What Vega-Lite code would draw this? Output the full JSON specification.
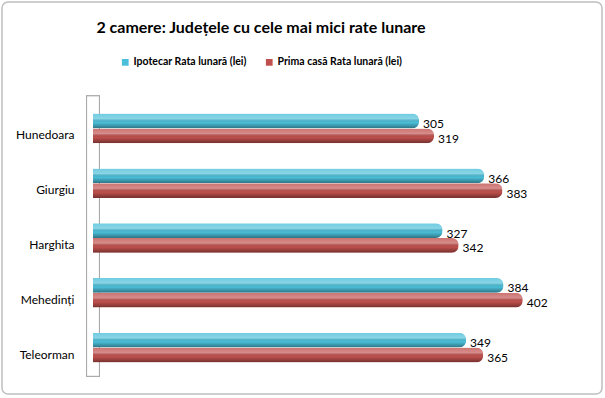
{
  "$schema": "https://vega.github.io/schema/vega-lite/v6.json",
  "autosize": "none",
  "width": 600,
  "height": 392,
  "padding": {"left": 2, "top": 2, "right": 3, "bottom": 4},
  "background": "white",
  "title": {
    "text": "2 camere: Județele cu cele mai mici rate lunare",
    "font": "Lato",
    "fontSize": 16,
    "fontWeight": "bold",
    "color": "#000000",
    "anchor": "middle",
    "dx": -41,
    "offset": -34
  },
  "data": {
    "values": [
      {"judet": "Hunedoara", "serie": "Ipotecar Rata lunară (lei)", "valoare": 305},
      {"judet": "Hunedoara", "serie": "Prima casă Rata lunară (lei)", "valoare": 319},
      {"judet": "Giurgiu", "serie": "Ipotecar Rata lunară (lei)", "valoare": 366},
      {"judet": "Giurgiu", "serie": "Prima casă Rata lunară (lei)", "valoare": 383},
      {"judet": "Harghita", "serie": "Ipotecar Rata lunară (lei)", "valoare": 327},
      {"judet": "Harghita", "serie": "Prima casă Rata lunară (lei)", "valoare": 342},
      {"judet": "Mehedinți", "serie": "Ipotecar Rata lunară (lei)", "valoare": 384},
      {"judet": "Mehedinți", "serie": "Prima casă Rata lunară (lei)", "valoare": 402},
      {"judet": "Teleorman", "serie": "Ipotecar Rata lunară (lei)", "valoare": 349},
      {"judet": "Teleorman", "serie": "Prima casă Rata lunară (lei)", "valoare": 365}
    ]
  },
  "layer": [
    {
      "mark": {"type": "rect", "fill": "#ffffff", "stroke": "#a6a6a6", "strokeWidth": 1},
      "encoding": {
        "x": {"datum": -6, "type": "quantitative", "scale": {"domain": [0, 400], "range": [91, 518.6]}, "axis": null},
        "x2": {"datum": 6},
        "y": {"datum": "Hunedoara", "type": "nominal", "bandPosition": -0.6},
        "y2": {"datum": "Teleorman", "bandPosition": 1.47}
      }
    },
    {
      "encoding": {
        "y": {
          "field": "judet",
          "type": "nominal",
          "sort": ["Hunedoara", "Giurgiu", "Harghita", "Mehedinți", "Teleorman"],
          "scale": {"range": [99, 373], "paddingInner": 0.46, "paddingOuter": 0.23},
          "axis": {
            "title": null,
            "domain": false,
            "ticks": false,
            "grid": false,
            "labelFont": "Lato",
            "labelFontSize": 12,
            "labelColor": "#000000",
            "offset": -76,
            "labelPadding": 4,
            "labelOffset": 7
          }
        },
        "x": {"field": "valoare", "type": "quantitative", "axis": null},
        "yOffset": {"field": "serie", "type": "nominal"}
      },
      "layer": [
        {
          "mark": {"type": "bar", "cornerRadiusEnd": 7},
          "encoding": {
            "color": {
              "field": "serie",
              "type": "nominal",
              "scale": {
                "domain": ["Ipotecar Rata lunară (lei)", "Prima casă Rata lunară (lei)"],
                "range": ["#4bbfd9", "#c0504d"]
              },
              "legend": {
                "title": null,
                "orient": "none",
                "legendX": 118,
                "legendY": 55,
                "direction": "horizontal",
                "symbolType": "square",
                "symbolSize": 45,
                "symbolStrokeWidth": 0,
                "labelFont": "Lato",
                "labelFontSize": 10.5,
                "labelFontWeight": "bold",
                "labelColor": "#000000",
                "labelOffset": 3,
                "columnPadding": 17,
                "padding": 0
              }
            }
          }
        },
        {
          "mark": {
            "type": "bar",
            "cornerRadiusEnd": 7,
            "color": {
              "gradient": "linear",
              "x1": 0, "y1": 0, "x2": 0, "y2": 1,
              "stops": [
                {"offset": 0, "color": "rgba(255,255,255,0.2)"},
                {"offset": 0.35, "color": "rgba(255,255,255,0.35)"},
                {"offset": 0.6, "color": "rgba(0,0,0,0)"},
                {"offset": 1, "color": "rgba(0,0,0,0.4)"}
              ]
            }
          },
          "encoding": {}
        },
        {
          "mark": {"type": "text", "align": "left", "baseline": "middle", "dx": 4, "dy": 3, "font": "Lato", "fontSize": 12, "color": "#000000"},
          "encoding": {
            "text": {"field": "valoare", "type": "quantitative"}
          }
        }
      ]
    }
  ],
  "config": {
    "view": {"stroke": "#bfbfbf", "strokeWidth": 1.5, "cornerRadius": 6}
  }
}
